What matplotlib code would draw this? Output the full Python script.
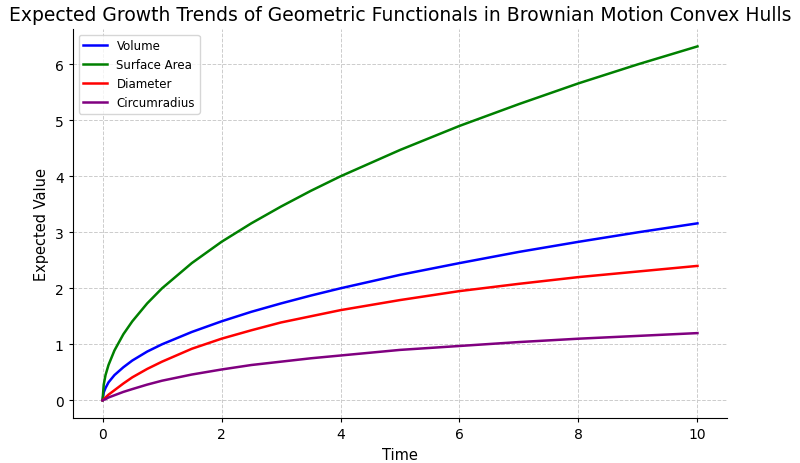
import matplotlib.pyplot as plt

# values
time = [0, 0.02, 0.05, 0.1, 0.2, 0.35, 0.5, 0.75, 1, 1.5, 2, 2.5, 3, 3.5,
        4, 5, 6, 7, 8, 9, 10]
volume = [0, 0.14, 0.22, 0.32, 0.45, 0.59, 0.71, 0.87, 1.0, 1.22, 1.41, 1.58,
          1.73, 1.87, 2.0, 2.24, 2.45, 2.65, 2.83, 3.0, 3.16]
surface_area = [0, 0.28, 0.45, 0.63, 0.89, 1.18, 1.41, 1.73, 2.0, 2.45, 2.83,
                3.16, 3.46, 3.74, 4.0, 4.47, 4.90, 5.29, 5.66, 6.0, 6.32]
diameter = [0, 0.02, 0.05, 0.10, 0.18, 0.30, 0.41, 0.56, 0.69, 0.92, 1.10,
            1.25, 1.39, 1.50, 1.61, 1.79, 1.95, 2.08, 2.20, 2.30, 2.40]
circumradius = [0, 0.01, 0.02, 0.05, 0.09, 0.15, 0.20, 0.28, 0.35, 0.46, 0.55,
                0.63, 0.69, 0.75, 0.80, 0.90, 0.97, 1.04, 1.10, 1.15, 1.20]

fig = plt.figure(figsize=(8, 4.64), dpi=100)
ax = fig.add_axes([0.091, 0.097, 0.818, 0.839])

ax.plot(time, volume, color='blue', lw=1.8, label='Volume')
ax.plot(time, surface_area, color='green', lw=1.8, label='Surface Area')
ax.plot(time, diameter, color='red', lw=1.8, label='Diameter')
ax.plot(time, circumradius, color='purple', lw=1.8, label='Circumradius')

ax.set_title('Expected Growth Trends of Geometric Functionals in Brownian Motion Convex Hulls',
             fontsize=13.5)
ax.set_xlabel('Time', fontsize=10.5)
ax.set_ylabel('Expected Value', fontsize=10.5)
ax.tick_params(labelsize=10, length=3)
ax.grid(True, linestyle='--', color='#cccccc', linewidth=0.7)
ax.spines['top'].set_visible(False)
ax.spines['right'].set_visible(False)
ax.legend(loc='upper left', fontsize=8.5)

plt.savefig('out.png')
plt.close()
